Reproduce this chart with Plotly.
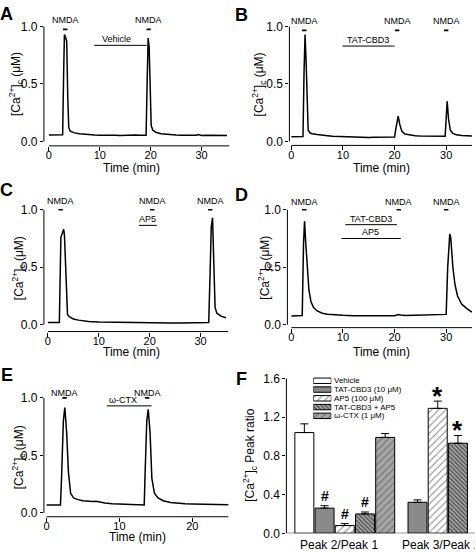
import plotly.graph_objects as go

W, H = 475, 552
FONT = "Liberation Sans, Arial, sans-serif"

# ---------------- data: [Ca2+]c traces (time min, value uM) ----------------
trace_A = [(0, 0.056), (1, 0.055), (2, 0.057), (2.7, 0.058), (2.9, 0.6), (3.05, 0.93), (3.25, 0.91),
           (3.5, 0.87), (3.7, 0.4), (3.9, 0.12), (4.2, 0.09), (4.6, 0.08), (5, 0.075), (6, 0.068),
           (7, 0.063), (8, 0.06), (9, 0.057), (10, 0.055), (11, 0.057), (12, 0.054), (13, 0.055),
           (14, 0.053), (15, 0.056), (16, 0.054), (17, 0.056), (18, 0.054), (19.1, 0.055), (19.3, 0.5),
           (19.5, 0.9), (19.7, 0.82), (19.9, 0.4), (20.1, 0.14), (20.4, 0.1), (21, 0.08), (22, 0.068),
           (23, 0.062), (24, 0.058), (25, 0.056), (26, 0.055), (27, 0.054), (28, 0.055), (29, 0.054),
           (29.4, 0.06), (29.7, 0.054), (30, 0.053), (31, 0.054), (32, 0.052), (33, 0.053), (34, 0.051),
           (35, 0.052)]
trace_B = [(0, 0.042), (1, 0.042), (2, 0.043), (2.25, 0.043), (2.45, 0.6), (2.65, 0.93), (2.85, 0.7),
           (3.05, 0.25), (3.25, 0.1), (3.6, 0.075), (4, 0.068), (5, 0.06), (6, 0.052), (6.3, 0.056),
           (7, 0.05), (8, 0.046), (9, 0.044), (10, 0.043), (11, 0.04), (12, 0.037), (13, 0.036),
           (14, 0.035), (15, 0.035), (16, 0.036), (17, 0.035), (18, 0.036), (19, 0.037), (20, 0.038),
           (20.2, 0.1), (20.5, 0.2), (20.7, 0.22), (21, 0.15), (21.4, 0.09), (22, 0.065), (23, 0.055),
           (24, 0.05), (25, 0.048), (26, 0.047), (27, 0.046), (28, 0.046), (29, 0.045), (29.8, 0.045),
           (30.0, 0.2), (30.2, 0.35), (30.45, 0.2), (30.8, 0.1), (31.3, 0.07), (32, 0.058), (33, 0.052),
           (34, 0.049), (35, 0.048)]
trace_C = [(0, 0.02), (1, 0.02), (2, 0.02), (2.25, 0.02), (2.55, 0.76), (2.8, 0.79), (3.1, 0.83),
           (3.25, 0.78), (3.6, 0.25), (3.85, 0.09), (4.2, 0.07), (5, 0.05), (6, 0.04), (7, 0.033),
           (8, 0.028), (10, 0.024), (12, 0.022), (14, 0.02), (16, 0.018), (18, 0.017), (20, 0.016),
           (22, 0.015), (24, 0.015), (26, 0.016), (28, 0.017), (30, 0.019), (31.6, 0.02), (31.9, 0.5),
           (32.1, 0.85), (32.35, 0.93), (32.55, 0.6), (32.85, 0.15), (33.2, 0.1), (34, 0.075), (35, 0.06)]
trace_D = [(0, 0.076), (1, 0.076), (2, 0.077), (2.1, 0.08), (2.35, 0.7), (2.55, 0.9), (2.8, 0.7),
           (3.1, 0.45), (3.4, 0.3), (3.8, 0.2), (4.3, 0.15), (5, 0.12), (6, 0.1), (7, 0.092), (8, 0.088),
           (9, 0.085), (10, 0.082), (12, 0.079), (14, 0.077), (16, 0.077), (18, 0.078), (20, 0.079),
           (20.8, 0.088), (21.2, 0.085), (22, 0.081), (24, 0.082), (26, 0.083), (27.5, 0.085), (28, 0.09),
           (28.5, 0.087), (29.5, 0.088), (30.0, 0.09), (30.3, 0.5), (30.7, 0.79), (30.9, 0.75),
           (31.3, 0.5), (31.7, 0.35), (32.2, 0.25), (33, 0.18), (34, 0.14), (35, 0.11)]
trace_E = [(0, 0.068), (1, 0.068), (1.9, 0.069), (2.05, 0.3), (2.3, 0.8), (2.5, 0.915), (2.75, 0.7),
           (3.0, 0.35), (3.3, 0.17), (3.7, 0.13), (4.3, 0.115), (5, 0.105), (5.5, 0.1), (6.3, 0.098),
           (6.8, 0.1), (7.3, 0.093), (8, 0.085), (9, 0.078), (10, 0.075), (11, 0.072), (12, 0.07),
           (13.4, 0.068), (13.5, 0.3), (13.75, 0.8), (13.95, 0.9), (14.2, 0.7), (14.45, 0.3), (14.8, 0.17),
           (15.3, 0.13), (16, 0.105), (17, 0.09), (18, 0.082), (19, 0.078), (20, 0.076), (21, 0.074),
           (22, 0.072), (23, 0.071), (24, 0.07), (25, 0.07)]

# NMDA application times (min)
nmda_A = [3.2, 19.6]
nmda_B = [2.5, 20.5, 30.0]
nmda_C = [2.5, 20.5, 31.9]
nmda_D = [2.5, 20.8, 30.0]
nmda_E = [2.47, 13.8]

# drug applications: (label, start, end, label centre)
drugs_A = [("Vehicle", 8.9, 19.2, 13.3)]
drugs_B = [("TAT-CBD3", 9.9, 20.0, 14.9)]
drugs_C = [("AP5", 17.9, 21.4, 19.6)]
drugs_D = [("TAT-CBD3", 10.45, 20.45, 15.4), ("AP5", 9.7, 21.2, 15.4)]
drugs_E = [("ω-CTX", 8.26, 14.4, 10.5)]

# ---------------- data: panel F ----------------
groups = ["Peak 2/Peak 1", "Peak 3/Peak 1"]
treatments = ["Vehicle", "TAT-CBD3 (10 μM)", "AP5 (100 μM)", "TAT-CBD3 + AP5", "ω-CTX (1 μM)"]
ratio_p21 = [1.04, 0.26, 0.08, 0.20, 0.99]
err_p21 = [0.09, 0.025, 0.02, 0.02, 0.04]
ratio_p31 = [None, 0.32, 1.29, 0.93, None]
err_p31 = [None, 0.025, 0.075, 0.08, None]
marks_p21 = ["", "#", "#", "#", ""]
marks_p31 = ["", "", "*", "*", ""]

# ---------------- styles ----------------
bar_styles = [
    dict(color="white"),
    dict(color="#8a8a8a"),
    dict(color="white", pattern=dict(shape="/", fgcolor="black", bgcolor="white", size=5, solidity=0.18)),
    dict(color="white", pattern=dict(shape="\\", fgcolor="black", bgcolor="#b8b8b8", size=3, solidity=0.6)),
    dict(color="#a6a6a6", pattern=dict(shape="/", fgcolor="#555555", bgcolor="#a6a6a6", size=5, solidity=0.3)),
]

# ---------------- geometry (pixels) ----------------
panels = [
    dict(letter="A", tr=trace_A, nmda=nmda_A, drugs=drugs_A, xt=[0, 10, 20, 30],
         dl=43, dr=229, x0=48, sx=5.1, db=142.5, dt=6, y0=138, sy=118,
         nl=0.975, nshift=2, dlv=[0.836], lpos=(6, 7.5), ypos=(15, 79), xpos=(131, 165)),
    dict(letter="B", tr=trace_B, nmda=nmda_B, drugs=drugs_B, xt=[0, 10, 20, 30],
         dl=289, dr=472, x0=291, sx=5.17, db=142, dt=6, y0=138, sy=118,
         nl=0.966, nshift=2, dlv=[0.83], lpos=(241.5, 8), ypos=(259, 79), xpos=(381, 165)),
    dict(letter="C", tr=trace_C, nmda=nmda_C, drugs=drugs_C, xt=[0, 10, 20, 30],
         dl=43, dr=228, x0=47, sx=5.1, db=333, dt=190, y0=326, sy=118,
         nl=1.0, nshift=2, dlv=[0.864], lpos=(6, 188), ypos=(18, 268), xpos=(131, 354)),
    dict(letter="D", tr=trace_D, nmda=nmda_D, drugs=drugs_D, xt=[0, 10, 20, 30],
         dl=287, dr=472, x0=291, sx=5.17, db=329, dt=190, y0=326, sy=118,
         nl=1.0, nshift=1, dlv=[0.87, 0.75], lpos=(241, 193), ypos=(265, 267), xpos=(381, 354)),
    dict(letter="E", tr=trace_E, nmda=nmda_E, drugs=drugs_E, xt=[0, 10, 20],
         dl=43, dr=228, x0=45.7, sx=7.3, db=523, dt=380, y0=519, sy=118,
         nl=1.0, nshift=-2, dlv=[0.93], lpos=(6, 378), ypos=(18, 462), xpos=(137, 544)),
]

fig = go.Figure()
shapes, annos = [], []
layout = dict(width=W, height=H, margin=dict(l=0, r=0, t=0, b=0), paper_bgcolor="white",
              plot_bgcolor="white", showlegend=False, font=dict(family=FONT, color="black", size=11))


def px_x(px):
    return px / W


def px_y(py):
    return 1 - py / H


def sfx(i):
    return "" if i == 1 else str(i)


for i, p in enumerate(panels, start=1):
    xa, ya = f"x{sfx(i)}", f"y{sfx(i)}"
    xr = [(p["dl"] - p["x0"]) / p["sx"], (p["dr"] - p["x0"]) / p["sx"]]
    yr = [(p["y0"] - p["db"]) / p["sy"], (p["y0"] - p["dt"]) / p["sy"]]
    layout[f"xaxis{sfx(i)}"] = dict(domain=[px_x(p["dl"]), px_x(p["dr"])], range=xr, anchor=ya,
                                    tickvals=p["xt"], ticks="outside", ticklen=4, tickcolor="black",
                                    showgrid=False, zeroline=False, showline=False,
                                    ticklabelstandoff=-5, tickfont=dict(size=11))
    layout[f"yaxis{sfx(i)}"] = dict(domain=[px_y(p["db"]), px_y(p["dt"])], range=yr, anchor=xa,
                                    tickvals=[0, 0.5, 1.0], tickformat=".1f", ticks="outside", ticklen=3,
                                    tickcolor="black", showgrid=False, zeroline=False, showline=False,
                                    tickfont=dict(size=12))
    t = [a for a, b in p["tr"]]
    c = [b for a, b in p["tr"]]
    fig.add_trace(go.Scatter(x=t, y=c, mode="lines", line=dict(color="black", width=1.5),
                             xaxis=xa, yaxis=ya, hoverinfo="skip"))
    # axis lines (Origin style, detached)
    shapes.append(dict(type="line", xref=xa, yref=f"{ya} domain", x0=0, x1=xr[1], y0=0, y1=0,
                       line=dict(color="black", width=1)))
    shapes.append(dict(type="line", xref=f"{xa} domain", yref=ya, x0=0, x1=0, y0=0, y1=1.0,
                       line=dict(color="black", width=1)))
    # NMDA bars
    hw = 2.2 / p["sx"]
    nx, ny = [], []
    for tn in p["nmda"]:
        nx += [tn - hw, tn + hw, None]
        ny += [p["nl"], p["nl"], None]
        annos.append(dict(x=tn, y=p["nl"], xref=xa, yref=ya, text="NMDA", showarrow=False,
                          yanchor="bottom", yshift=p["nshift"], font=dict(size=9)))
    fig.add_trace(go.Scatter(x=nx, y=ny, mode="lines", line=dict(color="black", width=1.6),
                             xaxis=xa, yaxis=ya, hoverinfo="skip", cliponaxis=False))
    # drug bars
    for (name, t0, t1, tl), lv in zip(p["drugs"], p["dlv"]):
        fig.add_trace(go.Scatter(x=[t0, t1], y=[lv, lv], mode="lines",
                                 line=dict(color="black", width=1), xaxis=xa, yaxis=ya,
                                 hoverinfo="skip"))
        annos.append(dict(x=tl, y=lv, xref=xa, yref=ya, text=name, showarrow=False,
                          yanchor="bottom", yshift=-1, font=dict(size=9)))
    # texts
    annos.append(dict(x=px_x(p["lpos"][0]), y=px_y(p["lpos"][1]), xref="paper", yref="paper",
                      text=f"<b>{p['letter']}</b>", showarrow=False, font=dict(size=18),
                      xanchor="center", yanchor="middle"))
    annos.append(dict(x=px_x(p["ypos"][0]), y=px_y(p["ypos"][1]), xref="paper", yref="paper",
                      text="[Ca<sup>2+</sup>]<sub>c</sub> (μM)", textangle=-90, showarrow=False,
                      font=dict(size=12), xanchor="center", yanchor="middle"))
    annos.append(dict(x=px_x(p["xpos"][0]), y=px_y(p["xpos"][1]), xref="paper", yref="paper",
                      text="Time (min)", showarrow=False, font=dict(size=12),
                      xanchor="center", yanchor="middle"))

# ---------------- panel F ----------------
F_dl, F_dr, F_x0, F_pitch = 286, 475, 304, 20.25
F_db, F_dt = 540, 381
group_centres = [2.0, 6.6]
offsets = [-2, -1, 0, 1, 2]
layout["xaxis6"] = dict(domain=[px_x(F_dl), px_x(F_dr)],
                        range=[(F_dl - F_x0) / F_pitch, (F_dr - F_x0) / F_pitch], anchor="y6",
                        showticklabels=False, ticks="", showgrid=False, zeroline=False, showline=False)
layout["yaxis6"] = dict(domain=[px_y(F_db), px_y(F_dt)], range=[0, 1.6], anchor="x6",
                        tickvals=[0, 0.4, 0.8, 1.2, 1.6], tickformat=".1f", ticks="outside", ticklen=3,
                        tickcolor="black", showgrid=False, zeroline=False, showline=False,
                        tickfont=dict(size=12))
shapes.append(dict(type="line", xref="x6 domain", yref="y6", x0=0, x1=0, y0=0, y1=1.6,
                   line=dict(color="black", width=1)))
shapes.append(dict(type="line", xref="x6 domain", yref="y6", x0=0, x1=1, y0=0, y1=0,
                   line=dict(color="black", width=1)))

for j, name in enumerate(treatments):
    xs, ys, es, ms = [], [], [], []
    for g, vals, errs, marks in ((0, ratio_p21, err_p21, marks_p21), (1, ratio_p31, err_p31, marks_p31)):
        if vals[j] is None:
            continue
        xs.append(group_centres[g] + offsets[j])
        ys.append(vals[j])
        es.append(errs[j])
        ms.append(marks[j])
    fig.add_trace(go.Bar(x=xs, y=ys, width=0.94, xaxis="x6", yaxis="y6",
                         marker=dict(line=dict(color="black", width=1), **bar_styles[j]),
                         error_y=dict(type="data", symmetric=False, array=es, arrayminus=[0] * len(es),
                                      color="black", thickness=1, width=4),
                         hoverinfo="skip"))
    for xv, yv, ev, mk in zip(xs, ys, es, ms):
        if mk == "#":
            annos.append(dict(x=xv, y=yv + ev, xref="x6", yref="y6", text="<b>#</b>", showarrow=False,
                              yanchor="bottom", yshift=0, font=dict(size=14)))
        elif mk == "*":
            annos.append(dict(x=xv, y=yv + ev, xref="x6", yref="y6", text="<b>*</b>", showarrow=False,
                              yanchor="bottom", yshift=-12, font=dict(size=26)))

for g, label, xs_ in zip(group_centres, groups, [-6, 3]):
    annos.append(dict(x=g, y=0, xref="x6", yref="y6", text=label, showarrow=False, yanchor="top",
                      yshift=-3, xshift=xs_, font=dict(size=12)))

annos.append(dict(x=px_x(241), y=px_y(382), xref="paper", yref="paper", text="<b>F</b>", showarrow=False,
                  font=dict(size=18), xanchor="center", yanchor="middle"))
annos.append(dict(x=px_x(250), y=px_y(460), xref="paper", yref="paper",
                  text="[Ca<sup>2+</sup>]<sub>c</sub> Peak ratio", textangle=-90, showarrow=False,
                  font=dict(size=12), xanchor="center", yanchor="middle"))

# legend of panel F (swatches drawn as bars in a tiny subplot)
layout["xaxis7"] = dict(domain=[px_x(313), px_x(331)], range=[0, 1], anchor="y7", visible=False)
layout["yaxis7"] = dict(domain=[px_y(424), px_y(379)], range=[4.5, -0.5], anchor="x7", visible=False)
for j, name in enumerate(treatments):
    fig.add_trace(go.Bar(x=[1], y=[j], orientation="h", width=0.62, xaxis="x7", yaxis="y7",
                         marker=dict(line=dict(color="black", width=1), **bar_styles[j]),
                         hoverinfo="skip"))
    annos.append(dict(x=1, y=j, xref="x7", yref="y7", text=name, showarrow=False, xanchor="left",
                      yanchor="middle", xshift=1, font=dict(size=8)))

layout["shapes"] = shapes
layout["annotations"] = annos
layout["barmode"] = "overlay"
fig.update_layout(**layout)
fig.write_html("out.html", config={"displayModeBar": False},
               post_script="document.body.style.margin='0';document.body.style.overflow='hidden';")
